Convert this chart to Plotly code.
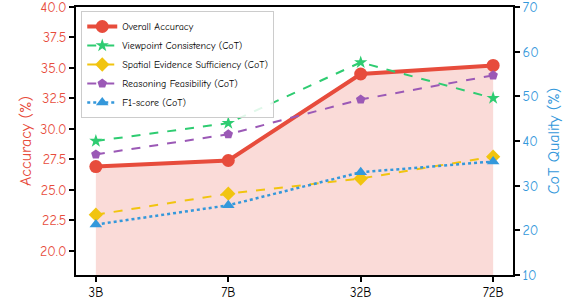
import plotly.graph_objects as go

models = ["3B", "7B", "32B", "72B"]
overall_acc = [26.9, 27.4, 34.5, 35.2]
viewpoint = [40.0, 44.0, 57.6, 49.6]
spatial = [23.5, 28.2, 31.6, 36.5]
reasoning = [37.0, 41.5, 49.3, 54.7]
f1_score = [21.3, 25.6, 33.0, 35.4]

RED = "#e74c3c"
GREEN = "#2ecc71"
YELLOW = "#f1c40f"
PURPLE = "#9b59b6"
BLUE = "#3498db"
FONT = "Comic Sans MS, Comic Neue, DejaVu Sans, sans-serif"

xs = list(range(len(models)))
fig = go.Figure()

fig.add_trace(go.Scatter(x=xs, y=overall_acc, mode="none", fill="tozeroy",
                         fillcolor="rgba(231,76,60,0.2)", showlegend=False, hoverinfo="skip"))
fig.add_trace(go.Scatter(x=xs, y=overall_acc, mode="lines+markers", name="Overall Accuracy",
                         line=dict(color=RED, width=4), marker=dict(size=13, color=RED)))
fig.add_trace(go.Scatter(x=xs, y=viewpoint, mode="lines+markers", name="Viewpoint Consistency (CoT)",
                         yaxis="y2", line=dict(color=GREEN, width=2, dash="dash"),
                         marker=dict(symbol="star", size=10, color=GREEN)))
fig.add_trace(go.Scatter(x=xs, y=spatial, mode="lines+markers", name="Spatial Evidence Sufficiency (CoT)",
                         yaxis="y2", line=dict(color=YELLOW, width=2, dash="dash"),
                         marker=dict(symbol="diamond", size=11, color=YELLOW)))
fig.add_trace(go.Scatter(x=xs, y=reasoning, mode="lines+markers", name="Reasoning Feasibility (CoT)",
                         yaxis="y2", line=dict(color=PURPLE, width=2, dash="dash"),
                         marker=dict(symbol="pentagon", size=10, color=PURPLE)))
fig.add_trace(go.Scatter(x=xs, y=f1_score, mode="lines+markers", name="F1-score (CoT)",
                         yaxis="y2", line=dict(color=BLUE, width=2.5, dash="dot"),
                         marker=dict(symbol="triangle-up", size=11, color=BLUE)))

fig.update_layout(
    width=566, height=304,
    margin=dict(l=76, r=53, t=7, b=29, autoexpand=False),
    paper_bgcolor="white", plot_bgcolor="white",
    font=dict(family=FONT, color="black"),
    xaxis=dict(tickmode="array", tickvals=xs, ticktext=models, range=[-0.15, 3.15],
               automargin=False,
               showgrid=False, zeroline=False, showline=True, linecolor="black", linewidth=1.5,
               mirror=True, ticks="outside", ticklen=5, tickwidth=2, tickcolor="black",
               tickfont=dict(size=13, color="black")),
    yaxis=dict(range=[18, 40], tickvals=[20, 22.5, 25, 27.5, 30, 32.5, 35, 37.5, 40],
               automargin=False, ticklabeloverflow="allow",
               tickformat=".1f", showgrid=False, zeroline=False, showline=True,
               linecolor="black", linewidth=1.5, ticks="outside", ticklen=5, tickwidth=2,
               tickcolor="black", tickfont=dict(size=14, color=RED),
               title=dict(text="Accuracy (%)", font=dict(size=16, color=RED), standoff=4)),
    yaxis2=dict(range=[10, 70], tickvals=[10, 20, 30, 40, 50, 60, 70], overlaying="y", side="right",
                automargin=False, ticklabeloverflow="allow",
                showgrid=False, zeroline=False, showline=True, linecolor="black", linewidth=1.5,
                ticks="outside", ticklen=5, tickwidth=2, tickcolor="black",
                tickfont=dict(size=14, color=BLUE),
                title=dict(text="CoT Quality (%)", font=dict(size=16, color=BLUE), standoff=10)),
    legend=dict(x=0.012, y=0.985, xanchor="left", yanchor="top", bgcolor="rgba(255,255,255,0.85)",
                bordercolor="#cccccc", borderwidth=1, font=dict(size=10, color="black"),
                tracegroupgap=0, itemwidth=30),
    showlegend=True,
)

fig.write_html("out.html", config={"displayModeBar": False},
               post_script="document.body.style.margin='0';document.body.style.overflow='hidden';")
